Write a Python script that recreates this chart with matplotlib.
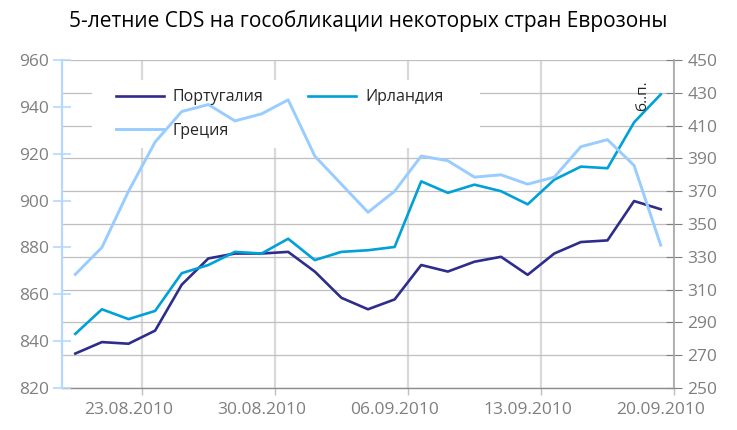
import matplotlib.pyplot as plt
from matplotlib.patches import Rectangle

# business days 19.08.2010 - 20.09.2010
dates = ['19.08', '20.08',
         '23.08', '24.08', '25.08', '26.08', '27.08',
         '30.08', '31.08', '01.09', '02.09', '03.09',
         '06.09', '07.09', '08.09', '09.09', '10.09',
         '13.09', '14.09', '15.09', '16.09', '17.09',
         '20.09']
tick_labels = ['23.08.2010', '30.08.2010', '06.09.2010', '13.09.2010', '20.09.2010']
tick_idx = [2, 7, 12, 17, 22]

# CDS, б.п.
portugal = [271, 278, 277, 285, 313, 329, 332, 332, 333, 321, 305, 298,
            304, 325, 321, 327, 330, 319, 332, 339, 340, 364, 359]
ireland = [283, 298, 292, 297, 320, 325, 333, 332, 341, 328, 333, 334,
           336, 376, 369, 374, 370, 362, 377, 385, 384, 412, 429]
greece = [868.5, 880, 904, 925, 938, 941, 934, 937, 943, 919, 907, 895,
          904, 919, 917, 910, 911, 907, 910, 923, 926, 915, 881]

C_PT = '#2e2d8c'
C_IE = '#00a0d8'
C_GR = '#99ccff'
GRAY = '#7f7f7f'

plt.rcParams['font.family'] = ['Open Sans', 'DejaVu Sans']

fig = plt.figure(figsize=(7.37, 4.30), dpi=100)
ax2 = fig.add_axes([62 / 737, 42 / 430, 612 / 737, 328 / 430])
ax = ax2.twinx()
ax2.yaxis.tick_right()
ax.yaxis.tick_left()
ax.set_zorder(ax2.get_zorder() + 1)
ax.patch.set_visible(False)

x = list(range(len(dates)))

# right axis: Portugal, Ireland + gridlines
ax2.set_axisbelow(True)
ax2.plot(x, portugal, color=C_PT, lw=1.9, label='Португалия', zorder=3)
ax2.plot(x, ireland, color=C_IE, lw=1.9, label='Ирландия', zorder=3)
ax2.set_ylim(250, 450)
ax2.set_yticks(range(250, 451, 20))
ax2.grid(axis='y', color='#bfbfbf', lw=0.9)
ax2.set_xlim(-0.5, len(dates) - 0.5)
ax2.set_xticks([i + 0.5 for i in tick_idx])
ax2.set_xticklabels([])
ax2.set_xticks(tick_idx, minor=True)
ax2.set_xticklabels(tick_labels, minor=True)
ax2.tick_params(axis='x', which='major', length=5, color='#bfbfbf', width=1.0)
ax2.tick_params(axis='x', which='minor', length=0, pad=10, labelsize=12.5, labelcolor=GRAY)
ax2.grid(axis='x', which='major', color='#d9d9d9', lw=1.6)
ax2.tick_params(axis='y', which='major', direction='inout', length=11, color=GRAY,
                labelsize=12.5, labelcolor=GRAY, pad=4)
for s in ['top', 'left']:
    ax2.spines[s].set_visible(False)
ax2.spines['right'].set_color('#a6a6a6')
ax2.spines['right'].set_linewidth(1.2)
ax2.spines['bottom'].set_color('#8c8c8c')
ax2.spines['bottom'].set_linewidth(1.0)

# white legend box over the gridlines (display coords, origin bottom-left)
ax2.add_patch(Rectangle((92, 430 - 148), 388, 68, transform=None, facecolor='white',
                        edgecolor='none', zorder=1))

# left axis: Greece
ax.plot(x, greece, color=C_GR, lw=2.1, label='Греция', zorder=3)
ax.set_ylim(820, 960)
ax.set_yticks(range(820, 961, 20))
ax.tick_params(axis='y', direction='inout', length=13, color='#b3d9ff', width=1.2,
               labelsize=12.5, labelcolor=GRAY, pad=3)
for s in ['top', 'right', 'bottom']:
    ax.spines[s].set_visible(False)
ax.spines['left'].set_color('#b3d9ff')
ax.spines['left'].set_linewidth(1.6)

h1, l1 = ax2.get_legend_handles_labels()
h2, l2 = ax.get_legend_handles_labels()
# column-major fill: PT, GR in column 1, IE in column 2
handles = [h1[0], h2[0], h1[1]]
labels = [l1[0], l2[0], l1[1]]
ax.legend(handles, labels, loc='upper left', bbox_to_anchor=(0.065, 0.955), ncol=2,
          frameon=False, fontsize=11.5, handlelength=3.0, handletextpad=0.55,
          columnspacing=2.8, labelspacing=1.1, labelcolor='#262626')

ax2.text(643, 430 - 96, 'б..п.', transform=None, rotation=90, ha='center', va='center',
         fontsize=11, color='#262626')

fig.text(0.5, 1 - 21 / 430, '5-летние CDS на гособликации некоторых стран Еврозоны',
         ha='center', va='center', fontsize=15, color='black')

fig.savefig('out.png', dpi=100)
